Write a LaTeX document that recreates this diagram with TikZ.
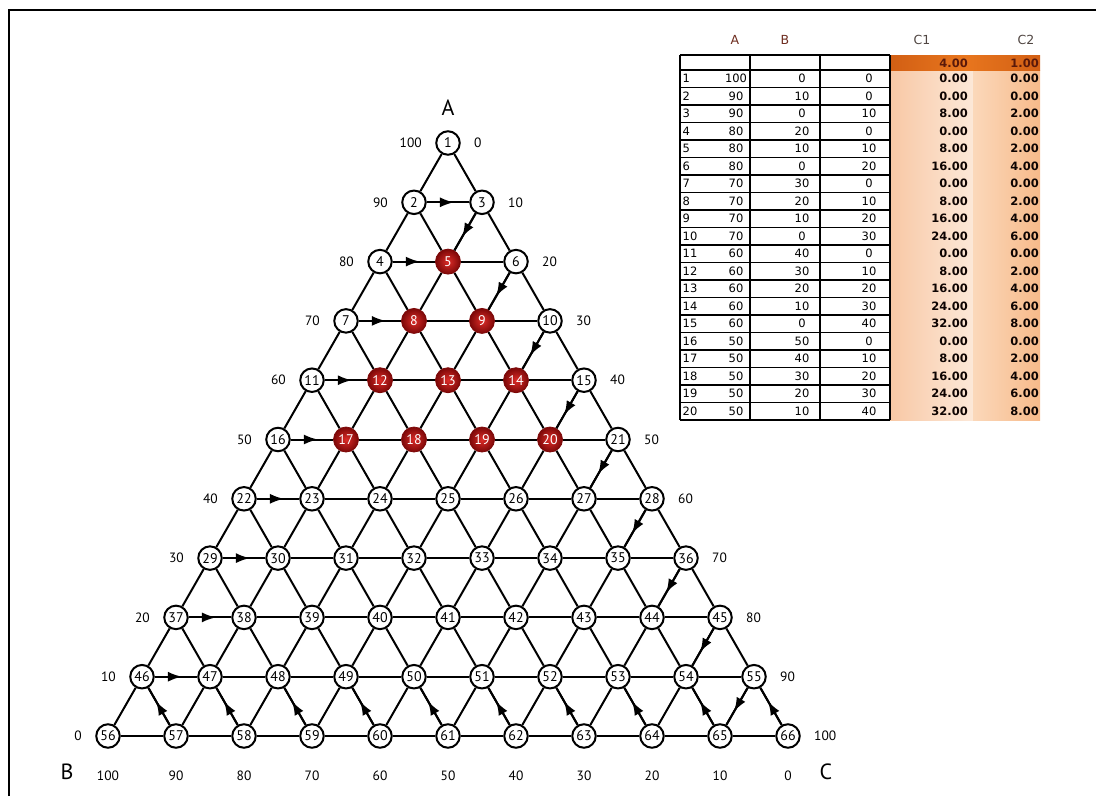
\documentclass[tikz,border=0pt]{standalone}
\usepackage{fontspec}
\setmainfont{PT Sans}
\newfontfamily\tabfont{DejaVu Sans}
\usetikzlibrary{arrows.meta,decorations.markings,backgrounds}
\definecolor{rdark}{RGB}{125,8,8}
\definecolor{rmid}{RGB}{220,44,40}
\definecolor{hdrcol}{RGB}{110,45,32}
\definecolor{hdrcol2}{RGB}{80,70,66}
\definecolor{orng}{RGB}{232,118,30}
\definecolor{orngd}{RGB}{210,95,20}
\definecolor{valtxt}{RGB}{90,25,10}
\definecolor{peachA}{RGB}{248,200,165}
\definecolor{peachB}{RGB}{252,232,216}
\definecolor{peachC}{RGB}{251,216,186}
\definecolor{peachD}{RGB}{247,186,138}
\begin{document}
\begin{tikzpicture}[x=1pt,y=-1pt,
  nd/.style={circle,draw=black,line width=2pt,fill=white,inner sep=0pt,minimum size=23.5pt,font=\fontsize{14}{14}\selectfont},
  rednd/.style={circle,draw=rdark,line width=0.8pt,inner color=rmid,outer color=rdark,inner sep=0pt,minimum size=25pt,text=white,font=\fontsize{14}{14}\selectfont},
  edge/.style={line width=2pt},
  midarr/.style={postaction={decorate},decoration={markings,mark=at position 0.64 with {\arrow{Latex[length=14pt,width=10pt]}}}},
  lab/.style={font=\fontsize{13.5}{14}\selectfont,inner sep=0pt},
  big/.style={font=\fontsize{22}{22}\selectfont,inner sep=0pt},
  tcell/.style={font=\tabfont\fontsize{11.5}{12}\selectfont,inner sep=0pt},
  tval/.style={font=\tabfont\bfseries\fontsize{11.5}{12}\selectfont,inner sep=0pt,text=black!85!valtxt},
  thead/.style={font=\tabfont\fontsize{12.5}{13}\selectfont,inner sep=0pt},
  grid/.style={line width=1.3pt}
]
\useasboundingbox (0,0) rectangle (1096,796);
% frame
\coordinate (fbl) at (9,796);
\coordinate (ftl) at (9,10);
\coordinate (ftr) at (1096,10);
\draw[line width=1.3pt] (fbl) -- (ftl) -- (ftr);

% triangle nodes
\foreach \i in {0,...,10}{
  \foreach \j in {0,...,\i}{
    \pgfmathtruncatemacro\nn{\i*(\i+1)/2+\j+1}
    \pgfmathtruncatemacro\isred{and(and(\i>=2,\i<=5),and(\j>=1,\j<=\i-1))}
    \ifnum\isred=1
      \node[rednd] (n\nn) at ({448+(\j-\i/2)*68},{143+\i*59.3}) {\nn};
    \else
      \node[nd] (n\nn) at ({448+(\j-\i/2)*68},{143+\i*59.3}) {\nn};
    \fi
  }
}

% edges
\begin{scope}[on background layer]
\foreach \i in {0,...,9}{
  \foreach \j in {0,...,\i}{
    \pgfmathtruncatemacro\ea{\i*(\i+1)/2+\j+1}
    \pgfmathtruncatemacro\eb{(\i+1)*(\i+2)/2+\j+1}
    \pgfmathtruncatemacro\ec{\eb+1}
    \draw[edge] (n\ea) -- (n\eb);
    \draw[edge] (n\ea) -- (n\ec);
  }
}
\foreach \i in {1,...,10}{
  \foreach \j in {1,...,\i}{
    \pgfmathtruncatemacro\ea{\i*(\i+1)/2+\j}
    \pgfmathtruncatemacro\eb{\ea+1}
    \draw[edge] (n\ea) -- (n\eb);
  }
}
% arrows
\foreach \i in {1,...,9}{
  \pgfmathtruncatemacro\ha{\i*(\i+1)/2+1}
  \pgfmathtruncatemacro\hb{\ha+1}
  \pgfmathtruncatemacro\da{(\i+1)*(\i+2)/2}
  \pgfmathtruncatemacro\db{\da+\i+1}
  \draw[edge,midarr] (n\ha) -- (n\hb);
  \draw[edge,midarr] (n\da) -- (n\db);
}
\foreach \j in {1,...,10}{
  \pgfmathtruncatemacro\ua{56+\j}
  \pgfmathtruncatemacro\ub{45+\j}
  \draw[edge,midarr] (n\ua) -- (n\ub);
}
\end{scope}

% side labels
\foreach \i in {0,...,10}{
  \pgfmathtruncatemacro\la{\i*(\i+1)/2+1}
  \pgfmathtruncatemacro\ra{(\i+1)*(\i+2)/2}
  \pgfmathtruncatemacro\lv{100-10*\i}
  \pgfmathtruncatemacro\rv{10*\i}
  \node[lab,anchor=east] (ll\i) at ([xshift=-26pt]n\la) {\lv};
  \node[lab,anchor=west] (rl\i) at ([xshift=26pt]n\ra) {\rv};
}
\foreach \j in {0,...,10}{
  \pgfmathtruncatemacro\ba{56+\j}
  \pgfmathtruncatemacro\bv{100-10*\j}
  \node[lab] (bl\j) at ([yshift=-40pt]n\ba) {\bv};
}
\node[big] (labA) at (448,108) {A};
\node[big] (labB) at (67,772) {B};
\node[big] (labC) at (826,772) {C};

% table
\shade[left color=peachA,right color=peachB] (890,70) rectangle (973,420);
\shade[left color=peachC,right color=peachD] (973,70) rectangle (1040,420);
\shade[left color=orngd,right color=orng] (890,55) rectangle (965,70);
\shade[left color=orng,right color=orngd] (965,55) rectangle (1040,70);
\foreach \k in {0,...,21}{
  \draw[grid] (680,{55+(\k>0)*15+max(\k-1,0)*17.5}) -- (890,{55+(\k>0)*15+max(\k-1,0)*17.5});
}
\foreach \xx in {680,750,820,890}{
  \draw[grid] (\xx,55) -- (\xx,420);
}
\node[thead,text=hdrcol] (hA) at (735,40) {A};
\node[thead,text=hdrcol] (hB) at (785,40) {B};
\node[thead,text=hdrcol2] (hC1) at (922,40) {C1};
\node[thead,text=hdrcol2] (hC2) at (1026,40) {C2};
\node[tval,anchor=east,text=valtxt] (t0d) at (968,63) {4.00};
\node[tval,anchor=east,text=valtxt] (t0e) at (1039,63) {1.00};
\foreach \rr/\va/\vb/\vc/\vd/\ve in {1/100/0/0/0.00/0.00,2/90/10/0/0.00/0.00,3/90/0/10/8.00/2.00,4/80/20/0/0.00/0.00,5/80/10/10/8.00/2.00,6/80/0/20/16.00/4.00,7/70/30/0/0.00/0.00,8/70/20/10/8.00/2.00,9/70/10/20/16.00/4.00,10/70/0/30/24.00/6.00,11/60/40/0/0.00/0.00,12/60/30/10/8.00/2.00,13/60/20/20/16.00/4.00,14/60/10/30/24.00/6.00,15/60/0/40/32.00/8.00,16/50/50/0/0.00/0.00,17/50/40/10/8.00/2.00,18/50/30/20/16.00/4.00,19/50/20/30/24.00/6.00,20/50/10/40/32.00/8.00}{
  \node[tcell,anchor=west] (t\rr n) at (682.5,{70+(\rr-0.5)*17.5}) {\rr};
  \node[tcell] (t\rr a) at (736,{70+(\rr-0.5)*17.5}) {\va};
  \node[tcell] (t\rr b) at (802,{70+(\rr-0.5)*17.5}) {\vb};
  \node[tcell] (t\rr c) at (869,{70+(\rr-0.5)*17.5}) {\vc};
  \node[tval,anchor=east] (t\rr d) at (968,{70+(\rr-0.5)*17.5}) {\vd};
  \node[tval,anchor=east] (t\rr e) at (1039,{70+(\rr-0.5)*17.5}) {\ve};
}
\end{tikzpicture}
\end{document}
